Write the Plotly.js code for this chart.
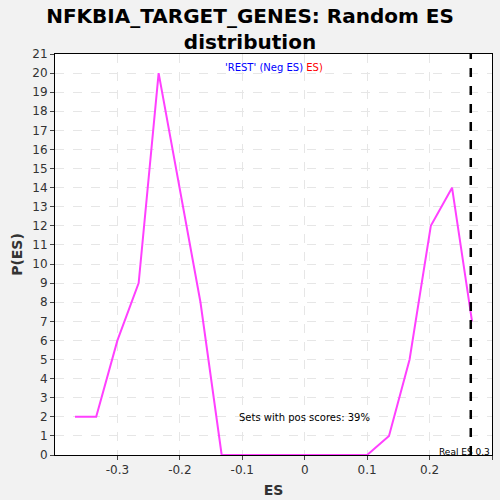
<!DOCTYPE html>
<html><head><script src="https://cdn.plot.ly/plotly-3.0.1.min.js"></script></head>
<body style="margin:0;background:#f2f2f2">
<div id="chart" style="width:500px;height:500px"></div>
<script>
const esValues = [-0.368,-0.334,-0.300,-0.266,-0.234,-0.200,-0.167,-0.133,-0.100,-0.067,-0.033,0.000,0.033,0.067,0.100,0.135,0.168,0.202,0.236,0.268];
const pValues  = [2,2,6,9,20,14,8,0,0,0,0,0,0,0,0,1,5,12,14,7];
const realES = 0.266;
const yTicks = Array.from({length:22},(_,i)=>i);

const traces = [{
  x: esValues, y: pValues, type:'scatter', mode:'lines',
  line:{color:'#ff40ff', width:2}, hoverinfo:'x+y'
}];
const layout = {
  width:500, height:500,
  paper_bgcolor:'#f2f2f2', plot_bgcolor:'#ffffff',
  margin:{l:55, r:8, t:54, b:45},
  title:{text:'<b>NFKBIA_TARGET_GENES: Random ES<br>distribution</b>', font:{family:'DejaVu Sans', size:20, color:'#000'}, x:0.5, y:0.955, yanchor:'middle'},
  showlegend:false,
  xaxis:{range:[-0.4,0.3], tickvals:[-0.3,-0.2,-0.1,0,0.1,0.2,0.3], ticktext:['-0.3','-0.2','-0.1','0','0.1','0.2','0.3'],
    showgrid:true, gridcolor:'#e6e6e6', griddash:'dash', zeroline:false, showline:true, linecolor:'#000', mirror:true,
    ticks:'outside', ticklen:4, tickfont:{family:'DejaVu Sans', size:12, color:'#333'},
    title:{text:'<b>ES</b>', font:{family:'DejaVu Sans', size:14, color:'#333'}, standoff:8}},
  yaxis:{range:[0,21], tickvals:yTicks, showgrid:true, gridcolor:'#e6e6e6', griddash:'dash', zeroline:false,
    showline:true, linecolor:'#000', mirror:true, ticks:'outside', ticklen:4,
    tickfont:{family:'DejaVu Sans', size:12, color:'#333'},
    title:{text:'<b>P(ES)</b>', font:{family:'DejaVu Sans', size:14, color:'#333'}, standoff:6}},
  shapes:[{type:'line', xref:'x', yref:'paper', x0:realES, x1:realES, y0:0, y1:1, line:{color:'#000', width:2.5, dash:'dash'}}],
  annotations:[
    {xref:'paper', yref:'paper', x:0.5, y:0.985, yanchor:'top', showarrow:false,
     text:"<span style='color:#0000ff'>'REST' (Neg ES)</span> <span style='color:#ff0000'>ES)</span>", font:{family:'DejaVu Sans', size:10}},
    {xref:'x', yref:'y', x:0, y:1.95, showarrow:false, text:'Sets with pos scores: 39%', font:{family:'DejaVu Sans', size:10, color:'#000'}},
    {xref:'paper', yref:'y', x:1, xanchor:'right', y:0.15, showarrow:false, text:'Real ES 0.3', font:{family:'DejaVu Sans', size:9, color:'#000'}}
  ]
};
Plotly.newPlot('chart', traces, layout, {displayModeBar:false});
</script></body></html>
